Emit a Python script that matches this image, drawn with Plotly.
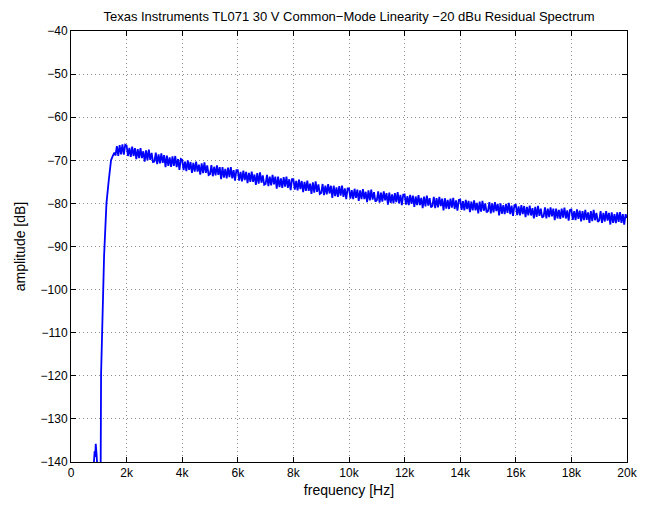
import numpy as np
import plotly.graph_objects as go

# rising edge and low-frequency bump (kHz, dB); values below -140 are clipped by the axis
edge_freq = [0.78, 0.82, 0.85, 0.87, 0.89, 0.92, 0.94, 0.98, 1.05, 1.068, 1.082,
             1.19, 1.275, 1.357, 1.44, 1.50, 1.56]
edge_amp = [-150, -140.5, -137.5, -138.8, -135.8, -138.2, -140.5, -150, -150, -140, -119.5,
            -92.2, -80.0, -74.7, -70.0, -69.0, -68.2]

# residual spectrum, 50 Hz bins from 1.60 kHz to 20.00 kHz
spec_freq = np.arange(32, 401) * 0.05
spec_amp = [
    -68.9, -66.7, -69.0, -66.5, -68.6, -66.3, -68.7, -66.4,
    -66.6, -69.0, -67.1, -69.2, -66.8, -69.0, -67.2, -69.7, -67.4, -69.5, -67.2, -69.5, -67.9, -70.3, -67.7, -70.0, -67.5, -69.9, -68.3, -70.4,
    -70.3, -68.2, -70.9, -68.6, -70.7, -68.4, -70.6, -68.8, -71.6, -68.9, -71.3, -69.3, -71.5, -69.1, -71.3, -69.0, -71.6, -69.7, -72.2, -69.7,
    -69.9, -72.3, -70.3, -72.5, -70.0, -72.2, -70.4, -72.9, -70.6, -72.6, -70.3, -72.6, -71.0, -73.3, -70.7, -73.0, -70.5, -72.9, -71.2, -73.4,
    -73.2, -71.1, -73.7, -71.5, -73.5, -71.2, -73.4, -71.6, -74.4, -71.6, -74.0, -72.0, -74.2, -71.7, -73.9, -71.6, -74.2, -72.3, -74.7, -72.3,
    -72.3, -74.7, -72.7, -74.9, -72.4, -74.6, -72.7, -75.3, -72.9, -75.0, -72.6, -75.0, -73.3, -75.7, -73.0, -75.4, -72.8, -75.2, -73.5, -75.7,
    -75.5, -73.4, -76.0, -73.8, -75.8, -73.4, -75.6, -73.8, -76.6, -73.8, -76.2, -74.2, -76.4, -73.9, -76.1, -73.8, -76.4, -74.4, -76.9, -74.4,
    -74.4, -76.8, -74.8, -77.0, -74.5, -76.7, -74.8, -77.4, -75.0, -77.1, -74.7, -77.1, -75.4, -77.8, -75.1, -77.5, -74.9, -77.3, -75.6, -77.8,
    -77.6, -75.5, -78.1, -75.9, -77.9, -75.5, -77.7, -75.9, -78.7, -75.9, -78.3, -76.3, -78.5, -76.0, -78.2, -75.9, -78.5, -76.5, -79.0, -76.5,
    -76.5, -78.9, -76.9, -79.0, -76.6, -78.7, -76.8, -79.4, -77.0, -79.0, -76.7, -79.0, -77.3, -79.7, -77.0, -79.3, -76.8, -79.1, -77.4, -79.6,
    -79.3, -77.2, -79.8, -77.5, -79.6, -77.2, -79.3, -77.6, -80.3, -77.5, -79.9, -77.9, -80.0, -77.6, -79.7, -77.4, -80.0, -78.0, -80.4, -78.0,
    -77.9, -80.3, -78.3, -80.4, -78.0, -80.1, -78.2, -80.8, -78.4, -80.4, -78.1, -80.4, -78.7, -81.1, -78.4, -80.7, -78.2, -80.5, -78.8, -80.9,
    -80.6, -78.5, -81.1, -78.8, -80.9, -78.5, -80.6, -78.9, -81.6, -78.8, -81.2, -79.2, -81.3, -78.9, -81.0, -78.7, -81.3, -79.3, -81.7, -79.2,
    -79.1, -81.5, -79.5, -81.6, -79.2, -81.3, -79.4, -82.0, -79.6, -81.6, -79.3, -81.6, -79.9, -82.3, -79.6, -81.9, -79.4, -81.7, -80.0, -82.1,
    -81.8, -79.7, -82.3, -80.0, -82.1, -79.7, -81.8, -80.1, -82.8, -80.0, -82.4, -80.4, -82.5, -80.1, -82.2, -79.9, -82.5, -80.5, -82.9, -80.4,
    -80.3, -82.7, -80.7, -82.8, -80.4, -82.5, -80.6, -83.2, -80.8, -82.8, -80.5, -82.8, -81.1, -83.5, -80.8, -83.1, -80.6, -82.9, -81.2, -83.3,
    -83.0, -80.9, -83.5, -81.2, -83.2, -80.9, -83.0, -81.2, -83.9, -81.2, -83.5, -81.5, -83.6, -81.2, -83.3, -81.0, -83.5, -81.6, -84.0, -81.5,
    -81.4, -83.8, -81.8, -83.9, -81.4, -83.6, -81.7, -84.2, -81.8, -83.9, -81.5, -83.8, -82.1, -84.5, -81.8, -84.1, -81.5, -83.9, -82.2, -84.3,
    -84.0, -81.8, -84.5, -82.2, -84.2, -81.8, -84.0, -82.2, -84.9, -82.1, -84.5, -82.5, -84.6, -82.1, -84.3, -82.0, -84.5, -82.5, -84.9, -82.5,
    -83.4,
]

x_ticks = [0, 2, 4, 6, 8, 10, 12, 14, 16, 18, 20]
x_labels = ['0', '2k', '4k', '6k', '8k', '10k', '12k', '14k', '16k', '18k', '20k']
y_ticks = list(range(-140, -39, 10))

freq = list(edge_freq) + list(spec_freq)
amp = edge_amp + spec_amp

fig = go.Figure(go.Scatter(x=freq, y=amp, mode='lines',
                           line=dict(color='#0000ff', width=1.8, simplify=False)))

axis_style = dict(showline=True, linecolor='black', linewidth=1, mirror='ticks',
                  ticks='inside', ticklen=5, tickcolor='black',
                  showgrid=True, gridcolor='#8c8c8c', griddash='1px,3px', gridwidth=1,
                  zeroline=False, tickfont=dict(size=12, color='black'))

# page body adds an 8px offset, so the figure is a little smaller than the window
fig.update_layout(
    width=644, height=499,
    margin=dict(l=59, r=25, t=23, b=37),
    paper_bgcolor='white', plot_bgcolor='white',
    font=dict(family='Liberation Sans, Arial, sans-serif', size=12, color='black'),
    showlegend=False,
    title=dict(text='Texas Instruments TL071 30 V Common\u2212Mode Linearity \u221220 dBu Residual Spectrum',
               x=0.5, xref='paper', y=0.992, yref='container', yanchor='top',
               font=dict(size=13)),
    xaxis=dict(range=[0, 20], tickvals=x_ticks, ticktext=x_labels,
               title=dict(text='frequency [Hz]', standoff=5), **axis_style),
    yaxis=dict(range=[-140, -40], tickvals=y_ticks,
               title=dict(text='amplitude [dB]', standoff=11), **axis_style),
)

fig.write_html("out.html")
